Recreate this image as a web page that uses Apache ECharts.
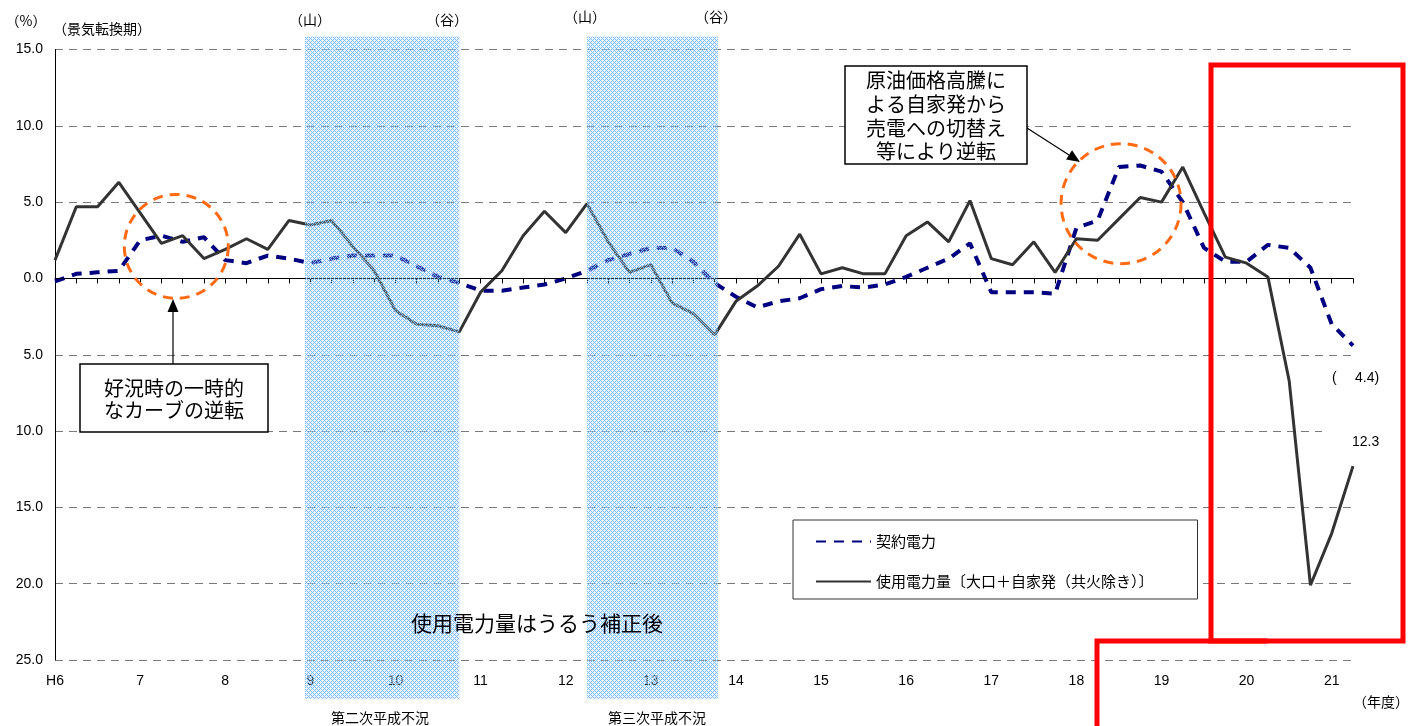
<!DOCTYPE html>
<html><head><meta charset="utf-8">
<script src="https://cdn.jsdelivr.net/npm/echarts/dist/echarts.min.js"></script>
<style>html,body{margin:0;padding:0;background:#fff}#c{width:1412px;height:726px}</style>
</head><body><div id="c"></div>
<script>
// ---- data ----
const yearLabels = ['H6','7','8','9','10','11','12','13','14','15','16','17','18','19','20','21'];
const quarterCount = 62;
const categories = [];
for (let i = 0; i < quarterCount; i++) categories.push(yearLabels[Math.floor(i / 4)] + '-' + (i % 4 + 1));

const contractName = '契約電力';
const usageName = '使用電力量〔大口＋自家発（共火除き）〕';

const contractPower = [
  -0.2, 0.3, 0.4, 0.5, 2.5, 2.8, 2.4, 2.7, 1.2, 1.0,
  1.5, 1.3, 1.0, 1.3, 1.5, 1.5, 1.5, 0.8, 0.1, -0.3,
  -0.8, -0.8, -0.6, -0.4, 0.0, 0.5, 1.2, 1.6, 2.0, 2.0,
  1.1, -0.3, -1.2, -1.9, -1.5, -1.3, -0.7, -0.5, -0.6, -0.4,
  0.1, 0.7, 1.3, 2.3, -0.9, -0.9, -0.9, -1.0, 3.3, 3.8,
  7.3, 7.4, 7.0, 5.0, 2.0, 1.1, 1.1, 2.2, 2.0, 0.7,
  -3.0, -4.4
];
const usagePower = [
  1.2, 4.7, 4.7, 6.3, 4.3, 2.3, 2.8, 1.3, 1.9, 2.6,
  1.9, 3.8, 3.5, 3.8, 2.1, 0.5, -2.1, -3.0, -3.1, -3.5,
  -0.9, 0.5, 2.8, 4.4, 3.0, 4.9, 2.4, 0.4, 0.9, -1.6,
  -2.3, -3.7, -1.5, -0.5, 0.8, 2.9, 0.3, 0.7, 0.3, 0.3,
  2.8, 3.7, 2.4, 5.1, 1.3, 0.9, 2.4, 0.4, 2.6, 2.5,
  3.9, 5.3, 5.0, 7.3, 4.3, 1.4, 1.0, 0.1, -6.7, -20.1,
  -16.7, -12.3
];
const yMin = -25, yMax = 15, yInterval = 5;
// recession periods (peak / trough), in quarter-index units
const recessionPeaks = [11.75, 25.0];
const recessionTroughs = [19.0, 31.15];
const recessionNames = ['第二次平成不況', '第三次平成不況'];

const JP = '"Noto Sans CJK JP", sans-serif';
const LAT = '"Liberation Sans", Arial, sans-serif';

const chart = echarts.init(document.getElementById('c'));
chart.setOption({
  animation: false,
  backgroundColor: '#fff',
  grid: { left: 55, right: 59, top: 49.5, bottom: 66, containLabel: false, outerBoundsMode: 'none' },
  legend: {
    orient: 'vertical', left: 793, top: 520,
    backgroundColor: '#fff', borderColor: '#333', borderWidth: 1, borderRadius: 0,
    padding: [14, 44, 10, 22], itemGap: 25, itemWidth: 55, itemHeight: 14,
    itemStyle: { opacity: 0 },
    textStyle: { fontFamily: JP, fontSize: 15, color: '#000' },
    data: [contractName, usageName]
  },
  xAxis: {
    type: 'category', boundaryGap: false, data: categories,
    axisLine: { lineStyle: { color: '#000', width: 1 } },
    axisTick: { show: true, interval: 0, length: 5, lineStyle: { color: '#000' } },
    axisLabel: { interval: 3, formatter: v => v.split('-')[0], color: '#000', fontSize: 14, fontFamily: LAT, margin: 14 },
    splitLine: { show: false }
  },
  yAxis: {
    type: 'value', min: yMin, max: yMax, interval: yInterval,
    axisLine: { show: true, lineStyle: { color: '#000', width: 1 } },
    axisTick: { show: false },
    axisLabel: { formatter: v => Math.abs(v).toFixed(1), color: '#000', fontSize: 14, fontFamily: LAT, margin: 12 },
    splitLine: { show: true, lineStyle: { color: '#7a7a7a', type: [8, 6], width: 1 } }
  },
  series: [
    {
      name: contractName, type: 'line', data: contractPower, symbol: 'none', z: 3,
      lineStyle: { color: '#000080', width: 4, type: [10, 8] }, itemStyle: { color: '#000080' },
      markLine: {
        silent: true, symbol: 'none', label: { show: false },
        lineStyle: { color: '#000', type: [8, 6], width: 1 },
        data: [{ yAxis: 0 }]
      }
    },
    {
      name: usageName, type: 'line', data: usagePower, symbol: 'none', z: 4,
      lineStyle: { color: '#333333', width: 3 }, itemStyle: { color: '#333333' }
    }
  ]
});

// ---- annotations ----
function makeHatch() {
  const c = document.createElement('canvas');
  c.width = 4; c.height = 4;
  const g = c.getContext('2d');
  for (let x = 0; x < 4; x++) for (let y = 0; y < 4; y++) {
    if ((x + y) % 4 === 0 || (x - y + 4) % 4 === 0) { g.fillStyle = '#7dbaff'; g.fillRect(x, y, 1, 1); }
    else { g.fillStyle = 'rgba(190,222,255,0.25)'; g.fillRect(x, y, 1, 1); }
  }
  return c;
}
const hatch = makeHatch();
const x0 = chart.convertToPixel({ xAxisIndex: 0 }, 0);
const x1 = chart.convertToPixel({ xAxisIndex: 0 }, 1);
const step = x1 - x0;
const xAt = f => x0 + f * step;
const yAt = v => chart.convertToPixel({ yAxisIndex: 0 }, v);

const g = [];
const shadeTop = yAt(yMax) - 13, shadeBottom = yAt(yMin) + 39;
recessionPeaks.forEach((p, k) => {
  const xa = xAt(p), xb = xAt(recessionTroughs[k]);
  g.push({ type: 'rect', silent: true, z: 50, shape: { x: xa, y: shadeTop, width: xb - xa, height: shadeBottom - shadeTop },
    style: { fill: { image: hatch, repeat: 'repeat' } } });
});

function txt(text, x, y, size, font, align, extra) {
  return Object.assign({ type: 'text', silent: true, z: 60,
    style: { text: text, x: x, y: y, fontSize: size, fontFamily: font, fill: '#000', align: align || 'center', verticalAlign: 'middle' } }, extra || {});
}
g.push(txt('（%）', 26, 21, 14, JP));
g.push(txt('（景気転換期）', 102, 29, 14, JP));
g.push(txt('（山）', 310, 20, 14, JP));
g.push(txt('（谷）', 447, 20, 14, JP));
g.push(txt('（山）', 585, 17, 14, JP));
g.push(txt('（谷）', 716, 17, 14, JP));
g.push(txt(recessionNames[0], 380, 718, 14, JP));
g.push(txt(recessionNames[1], 657, 718, 14, JP));
g.push(txt('（年度）', 1381, 702, 14, JP));
g.push(txt('使用電力量はうるう補正後', 537, 623, 21, JP));
g.push(txt('(', 1332, 378, 14, LAT, 'left'));
g.push(txt('4.4)', 1355, 378, 14, LAT, 'left'));
g.push({ type: 'rect', silent: true, z: 59, shape: { x: 1322, y: 428, width: 36, height: 6 }, style: { fill: '#fff' } });
g.push(txt('12.3', 1352, 442, 14, LAT, 'left'));

// orange dashed circles
g.push({ type: 'circle', silent: true, z: 55, shape: { cx: xAt(5.7), cy: yAt(2.1), r: 52 },
  style: { fill: 'none', stroke: '#ff6a13', lineWidth: 3, lineDash: [10, 7] } });
g.push({ type: 'circle', silent: true, z: 55, shape: { cx: xAt(50.1), cy: yAt(4.9), r: 60 },
  style: { fill: 'none', stroke: '#ff6a13', lineWidth: 3, lineDash: [10, 7] } });

// callout boxes
g.push({ type: 'rect', silent: true, z: 58, shape: { x: 80, y: 364, width: 188, height: 68 }, style: { fill: '#fff', stroke: '#000', lineWidth: 1.5 } });
g.push(txt('好況時の一時的', 174, 388, 20, JP));
g.push(txt('なカーブの逆転', 174, 410, 20, JP));
g.push({ type: 'rect', silent: true, z: 58, shape: { x: 845, y: 66, width: 182, height: 98 }, style: { fill: '#fff', stroke: '#000', lineWidth: 1.5 } });
g.push(txt('原油価格高騰に', 936, 80, 20, JP));
g.push(txt('よる自家発から', 936, 104, 20, JP));
g.push(txt('売電への切替え', 936, 128, 20, JP));
g.push(txt('等により逆転', 936, 151, 20, JP));

// arrows
function arrow(xs, ys, xe, ye) {
  const dx = xe - xs, dy = ye - ys, L = Math.sqrt(dx * dx + dy * dy);
  const ux = dx / L, uy = dy / L, hl = 13, hw = 5.5;
  const bx = xe - ux * hl, by = ye - uy * hl;
  g.push({ type: 'line', silent: true, z: 58, shape: { x1: xs, y1: ys, x2: bx, y2: by }, style: { stroke: '#000', lineWidth: 1.2 } });
  g.push({ type: 'polygon', silent: true, z: 58, shape: { points: [[xe, ye], [bx - uy * hw, by + ux * hw], [bx + uy * hw, by - ux * hw]] }, style: { fill: '#000' } });
}
arrow(173, 364, 173, 299);
arrow(1027, 128, 1080, 162);

// red highlight frames
g.push({ type: 'rect', silent: true, z: 70, shape: { x: 1211, y: 65, width: 192, height: 576 }, style: { fill: 'none', stroke: '#ff0000', lineWidth: 5 } });
g.push({ type: 'polyline', silent: true, z: 70, shape: { points: [[1097, 740], [1097, 641], [1267, 641]] }, style: { fill: 'none', stroke: '#ff0000', lineWidth: 5 } });

chart.setOption({ graphic: { elements: g } });
</script>
</body></html>
